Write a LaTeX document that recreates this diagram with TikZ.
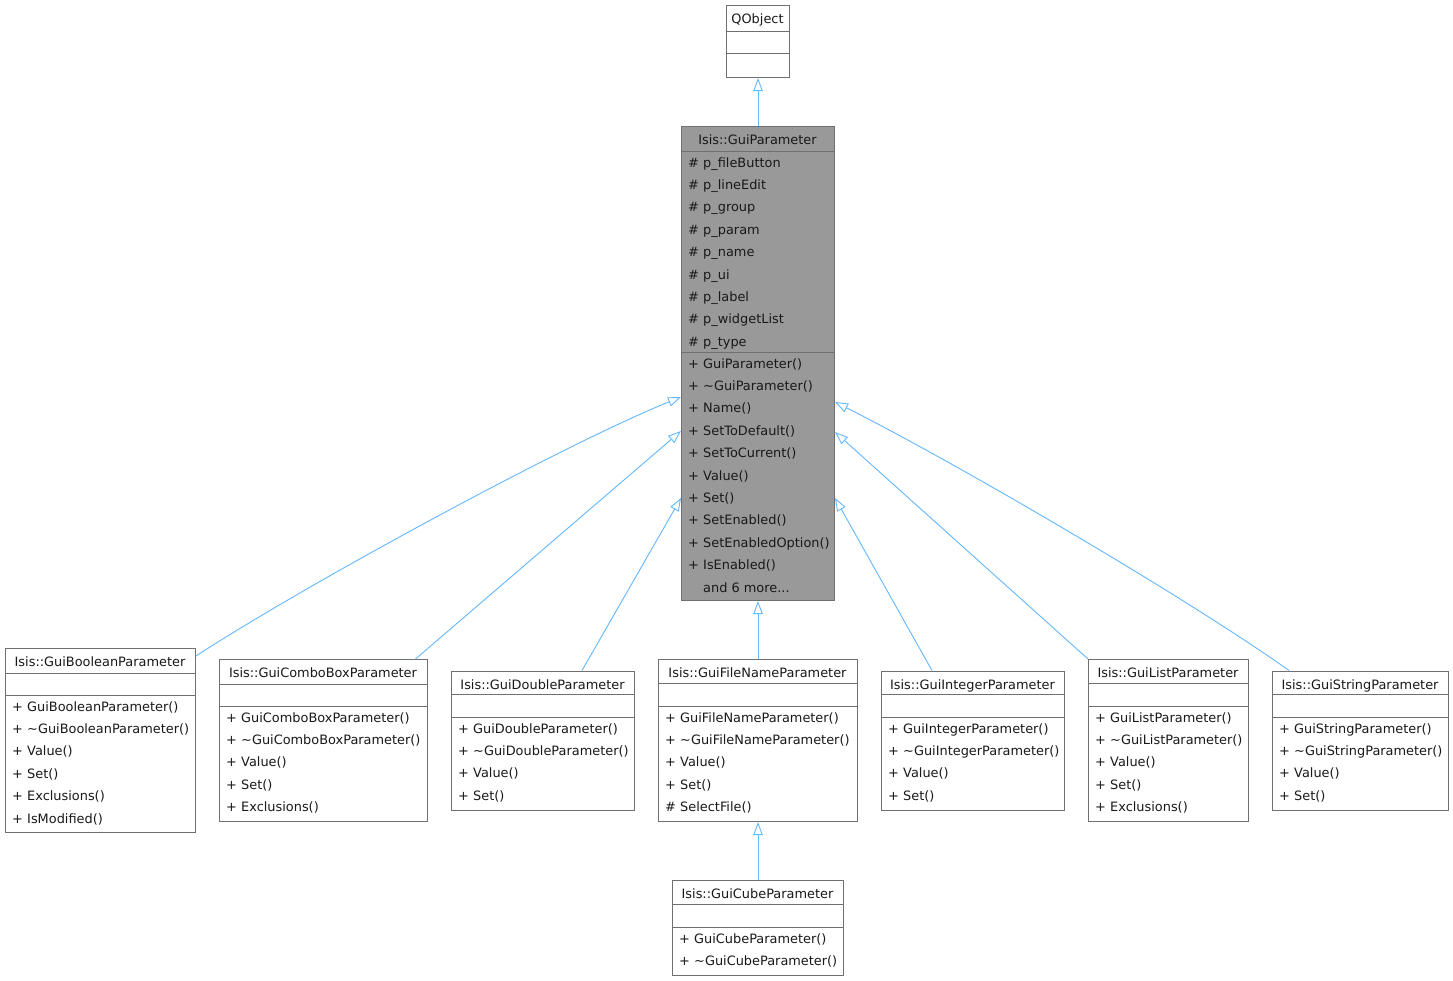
\documentclass[tikz,border=0pt]{standalone}
\usepackage{fontspec}
\setmainfont{DejaVu Sans}
\usetikzlibrary{arrows.meta,calc}
\definecolor{edgeblue}{HTML}{63B8FF}
\definecolor{boxgray}{HTML}{707070}
\definecolor{fillgray}{HTML}{999999}

\tikzset{
 txt/.style={inner sep=0pt, font=\fontsize{12.9}{15}\selectfont, text=black!90},
 box/.style={draw=boxgray, line width=1pt, inner sep=0pt, rectangle},
 boxline/.style={draw=boxgray, line width=1pt},
 inh/.style={draw=edgeblue, line width=0.9pt, -{Triangle[open, length=13pt, width=9.5pt]}},
}

% #1 fill, #2 name, #3 x1, #4 y1, #5 x2, #6 y2, #7 div1, #8 div2, #9 title
\newcommand{\clsbox}[9][white]{%
 \node[box, fill=#1, anchor=north west, minimum width={#5-#3}, minimum height={#6-#4}] (#2) at (#3,#4) {};
 \draw[boxline] (#3,#7) -- (#5,#7);
 \draw[boxline] (#3,#8) -- (#5,#8);
 \node[txt, anchor=base] (#2-title) at ({(#3+#5)/2}, {#4+18.5}) {#9};
}
% #1 name, #2 left x, #3 first baseline, #4 list
\newcommand{\clsmembers}[4]{%
 \foreach [count=\i] \msym/\mtxt in {#4} {%
  \node[txt, anchor=base west] (#1-s\i) at ({#2+7}, {#3+22.4*(\i-1)}) {\msym};
  \node[txt, anchor=base west] (#1-m\i) at ({#2+22}, {#3+22.4*(\i-1)}) {\mtxt};
 }}

\begin{document}
\begin{tikzpicture}[x=1pt, y=-1pt]
\fill[white] (0,0) rectangle (1453,980);
\useasboundingbox (0,0) rectangle (1453,980);

\clsbox{qobj}{726}{5}{789}{77}{31}{53}{QObject}

\clsbox[fillgray]{gp}{681}{125.5}{834}{600}{151}{352}{Isis::GuiParameter}
\clsmembers{gpa}{681}{167}{\#/p\_fileButton, \#/p\_lineEdit, \#/p\_group, \#/p\_param, \#/p\_name, \#/p\_ui, \#/p\_label, \#/p\_widgetList, \#/p\_type}
\clsmembers{gpo}{681}{368}{+/GuiParameter(), +/\textasciitilde GuiParameter(), +/Name(), +/SetToDefault(), +/SetToCurrent(), +/Value(), +/Set(), +/SetEnabled(), +/SetEnabledOption(), +/IsEnabled(), /and 6 more.{}.{}.}

\clsbox{bool}{5}{647.5}{195}{832}{673}{695}{Isis::GuiBooleanParameter}
\clsmembers{boolo}{5}{711}{+/GuiBooleanParameter(), +/\textasciitilde GuiBooleanParameter(), +/Value(), +/Set(), +/Exclusions(), +/IsModified()}

\clsbox{combo}{219}{659}{427}{821}{684}{706}{Isis::GuiComboBoxParameter}
\clsmembers{comboo}{219}{722}{+/GuiComboBoxParameter(), +/\textasciitilde GuiComboBoxParameter(), +/Value(), +/Set(), +/Exclusions()}

\clsbox{dbl}{451}{670.5}{634}{809.5}{694.5}{717}{Isis::GuiDoubleParameter}
\clsmembers{dblo}{451}{733}{+/GuiDoubleParameter(), +/\textasciitilde GuiDoubleParameter(), +/Value(), +/Set()}

\clsbox{fname}{658}{659}{857}{821}{683.5}{706}{Isis::GuiFileNameParameter}
\clsmembers{fnameo}{658}{722}{+/GuiFileNameParameter(), +/\textasciitilde GuiFileNameParameter(), +/Value(), +/Set(), \#/SelectFile()}

\clsbox{intg}{881}{670.5}{1064}{809.5}{694.5}{717}{Isis::GuiIntegerParameter}
\clsmembers{intgo}{881}{733}{+/GuiIntegerParameter(), +/\textasciitilde GuiIntegerParameter(), +/Value(), +/Set()}

\clsbox{lst}{1088}{659}{1248}{821}{683.5}{706}{Isis::GuiListParameter}
\clsmembers{lsto}{1088}{722}{+/GuiListParameter(), +/\textasciitilde GuiListParameter(), +/Value(), +/Set(), +/Exclusions()}

\clsbox{str}{1272}{670.5}{1448}{809.5}{694.5}{717}{Isis::GuiStringParameter}
\clsmembers{stro}{1272}{733}{+/GuiStringParameter(), +/\textasciitilde GuiStringParameter(), +/Value(), +/Set()}

\clsbox{cube}{672}{880}{843}{975}{904}{927}{Isis::GuiCubeParameter}
\clsmembers{cubeo}{672}{943}{+/GuiCubeParameter(), +/\textasciitilde GuiCubeParameter()}

% inheritance connectors
\draw[inh] (gp.north) -- (qobj.south);
\draw[inh] (fname.north) -- (gp.south);
\draw[inh] (cube.north) -- (fname.south);
\draw[inh] ($(bool.north east)+(0,8.5)$) .. controls (300,588) and (560,446) .. ($(gp.north west)+(0,271.5)$);
\draw[inh] ($(combo.north west)+(196.5,0)$) -- ($(gp.north west)+(0,305.5)$);
\draw[inh] ($(dbl.north west)+(131,0)$) -- ($(gp.north west)+(0,372.5)$);
\draw[inh] ($(intg.north west)+(51,0)$) -- ($(gp.north east)+(0,372.5)$);
\draw[inh] (lst.north west) -- ($(gp.north east)+(0,306.5)$);
\draw[inh] ($(str.north west)+(17,0)$) .. controls (1190,600) and (960,465) .. ($(gp.north east)+(0,276.5)$);
\end{tikzpicture}
\end{document}
